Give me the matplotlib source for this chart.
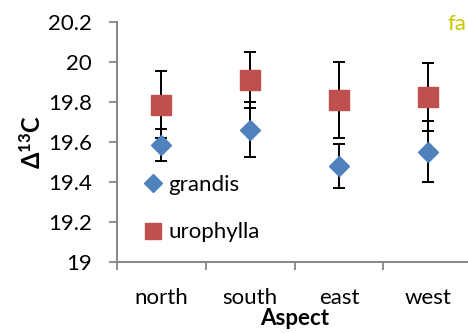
import matplotlib
matplotlib.use("Agg")
import matplotlib.pyplot as plt
from matplotlib.lines import Line2D
from matplotlib.ticker import FixedLocator

# ───────────── data ─────────────
aspects = ["north", "south", "east", "west"]
grandis = [19.585, 19.662, 19.48, 19.552]
grandis_err = [0.08, 0.137, 0.11, 0.152]
urophylla = [19.787, 19.909, 19.81, 19.825]
urophylla_err = [0.168, 0.141, 0.19, 0.17]
yticks = [19.0, 19.2, 19.4, 19.6, 19.8, 20.0, 20.2]
ytick_labels = ["19", "19.2", "19.4", "19.6", "19.8", "20", "20.2"]

plt.rcParams.update({
    "font.family": ["Lato", "DejaVu Sans"],
    "font.size": 16,
    "mathtext.fontset": "custom",
    "mathtext.rm": "Lato",
    "mathtext.bf": "Lato:bold",
})

BLUE = "#4F81BD"
RED = "#C0504D"
AXIS = "#868686"

fig = plt.figure(figsize=(4.68, 3.33), dpi=100)
ax = fig.add_axes([117 / 468, 71 / 333, 355 / 468, 240 / 333])

x = list(range(len(aspects)))
ax.errorbar(x, grandis, yerr=grandis_err, fmt="D", color=BLUE, ms=10.5,
            ecolor="black", elinewidth=1.4, capsize=4.5, capthick=1.4, mec=BLUE)
ax.errorbar(x, urophylla, yerr=urophylla_err, fmt="s", color=RED, ms=14.5,
            ecolor="black", elinewidth=1.4, capsize=4.5, capthick=1.4, mec=RED)

ax.set_xlim(-0.5, len(aspects) - 0.5)
ax.set_ylim(19, 20.2)
ax.set_yticks(yticks)
ax.set_yticklabels(ytick_labels)
ax.set_xticks(x)
ax.set_xticklabels(aspects)
ax.xaxis.set_minor_locator(FixedLocator([i - 0.5 for i in range(len(aspects) + 1)]))

ax.tick_params(axis="x", which="major", length=0, pad=19)
ax.tick_params(axis="x", which="minor", length=6, width=1.3, color=AXIS, direction="out")
ax.tick_params(axis="y", length=6, width=1.3, color=AXIS, direction="out", pad=12)

for side in ("top", "right"):
    ax.spines[side].set_visible(False)
for side in ("left", "bottom"):
    ax.spines[side].set_color(AXIS)
    ax.spines[side].set_linewidth(1.4)

ax.set_xlabel("Aspect", fontweight="bold", labelpad=0)
ax.set_ylabel(r"$\mathbf{\Delta^{13}C}$", fontsize=17, labelpad=2)

handles = [
    Line2D([], [], ls="none", marker="D", color=BLUE, ms=9),
    Line2D([], [], ls="none", marker="s", color=RED, ms=12),
]
ax.legend(handles, ["grandis", "urophylla"], loc="center left",
          bbox_to_anchor=(0.07, 0.2225), frameon=False,
          handlelength=1.0, handletextpad=0.2, labelspacing=1.25,
          borderpad=0, borderaxespad=0)

# stray label at the top-right corner, kept inside the canvas
fig.text(466 / 468, 1 - 30 / 333, "fa", color="#C8C800", fontsize=16,
         ha="right", va="baseline")

fig.savefig("out.png", dpi=100)
